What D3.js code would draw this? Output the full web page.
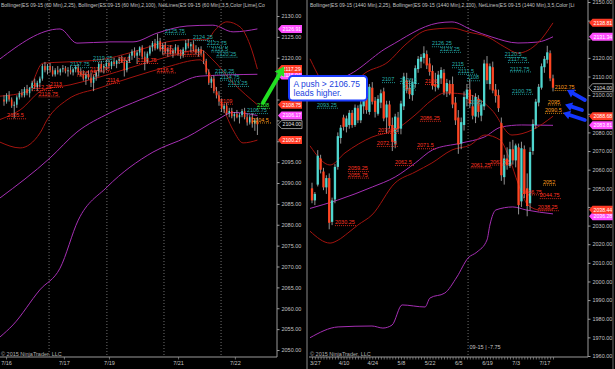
<!DOCTYPE html>
<html>
<head>
<meta charset="utf-8">
<script src="https://cdn.jsdelivr.net/npm/d3@7"></script>
<style>
body { margin: 0; background: #000; }
svg { display: block; font-family: "Liberation Sans", Arial, sans-serif; }
</style>
</head>
<body>
<svg width="615" height="369"></svg>
<script>
// ---- left panel: ES 09-15, 60 min, [open, high, low, close] ----
var leftBars = [
[2110,2111,2108.5,2109.5],[2109.5,2111.5,2109,2111],[2111,2112,2109.5,2110],[2110,2110.5,2108,2108.5],
[2108.5,2109.5,2105.5,2108.75],[2108.75,2111,2108,2110.5],[2110.5,2112,2110,2111.5],[2111.5,2112.5,2110.5,2111],
[2111,2113,2110.5,2112.5],[2112.5,2113.5,2111,2111.5],[2111.5,2113,2110.5,2112.75],[2112.75,2114.5,2112,2114],
[2114,2115,2112.5,2113],[2113,2114.5,2112,2114],[2114,2115.5,2113,2115],[2115,2118.5,2114.5,2118],
[2118,2119,2116.5,2117],[2117,2118.5,2116,2118],[2118,2118.75,2116.5,2117],[2117,2118,2115.5,2116],
[2116,2117.5,2115.5,2117],[2117,2118,2116,2116.5],[2116.5,2117.5,2115.75,2117.25],[2117.25,2118.25,2116.5,2117.5],
[2117.5,2118,2116.25,2116.75],[2116.75,2117.75,2115.5,2117],[2117,2118,2116,2116.5],[2116.5,2117.5,2115.75,2117.25],
[2117.25,2118.25,2116.5,2117.75],[2117.75,2118.5,2116,2116.5],[2116.5,2117.5,2115.5,2116],[2116,2117,2114.5,2115],
[2115,2116.5,2113.5,2116],[2116,2117,2114.75,2115.25],[2115.25,2116.5,2113,2114],[2114,2116,2112,2115.5],
[2115.5,2117,2114.5,2116.5],[2116.5,2119,2115.5,2118.5],[2118.5,2119.25,2116.5,2117.5],[2117.5,2118.5,2116.25,2118],
[2118,2119.5,2117,2118.75],[2118.75,2119.5,2117.5,2118],[2118,2119.25,2117.25,2119],[2119,2120,2118,2118.5],
[2118.5,2119.5,2117.5,2119.25],[2119.25,2120.25,2118.5,2119.75],[2119.75,2120.5,2118.75,2119],[2119,2120,2115.5,2117],
[2117,2119.5,2116.5,2119.25],[2119.25,2121,2118.75,2120.5],[2120.5,2122,2119.5,2121.5],[2121.5,2122.5,2120,2120.5],
[2120.5,2121.75,2118.5,2121.25],[2121.25,2122.75,2120.5,2122.5],[2122.5,2123,2119.75,2120.25],[2120.25,2121.5,2117,2119],
[2119,2121.5,2118.5,2121],[2121,2123,2120.5,2122.5],[2122.5,2124,2121.5,2123.5],[2123.5,2124.5,2121.75,2122.25],
[2122.25,2125.75,2122,2124],[2124,2124.75,2121.5,2122],[2122,2123.5,2120.75,2123],[2123,2123.75,2121,2121.5],
[2121.5,2122.5,2120.25,2122],[2122,2123,2120.75,2121],[2121,2122.25,2120,2121.75],[2121.75,2123.25,2121,2122.5],
[2122.5,2123,2120.5,2121],[2121,2122,2119.75,2120.5],[2120.5,2122.5,2120,2122],[2122,2124.25,2121.5,2123.5],
[2123.5,2124.5,2122.25,2122.75],[2122.75,2123.75,2121.25,2123.25],[2123.25,2124,2121.5,2122],[2122,2123,2120.75,2121.25],
[2121.25,2122.5,2120.25,2122],[2122,2122.75,2120.5,2121],[2121,2121.75,2118.5,2119.25],[2119.25,2119.75,2116,2116.5],
[2116.5,2117.25,2113.5,2114],[2114,2115.5,2112.75,2115],[2115,2115.75,2111.5,2112],[2112,2113,2110.25,2111],
[2111,2112,2108.5,2109.5],[2109.5,2110.25,2107,2107.75],[2107.75,2109,2106.75,2108.5],[2108.5,2109.25,2106.25,2106.75],
[2106.75,2108,2105.75,2107.25],[2107.25,2108,2105.5,2106],[2106,2107,2104.75,2106.5],[2106.5,2107.5,2105.5,2105.75],
[2105.75,2106.75,2104.25,2106.25],[2106.25,2107.75,2105.75,2107.25],[2107.25,2108,2105.25,2105.75],[2105.75,2106.5,2103.75,2104.5],
[2104.5,2106.25,2104,2105.75],[2105.75,2106.75,2103.25,2104.25],[2104.25,2105.5,2102.5,2105],[2105,2105.75,2101.5,2104]
];
var leftPriceTicks = [2130,2125,2120,2115,2110,2105,2100,2095,2090,2085,2080,2075,2070,2065,2060,2055,2050];
var leftDates = ["7/16","7/17","7/19","7/21","7/22"];
var leftDateBars = [0.8,23.4,41,68,90.2];
var leftSessions = [17.6,40.2,62.5,84.8];

// bollinger(25) and bollinger(100), [bar, price]
var leftBB25Upper = [[-1.6,2110.8],[9,2111.9],[15.2,2118.7],[24.6,2119],[37.5,2119.5],[50.4,2121.4],[63.7,2123.8],[71.5,2124.3],[79.3,2124.3],[82.4,2126.6],[87.1,2128.6],[92.2,2127.4],[96.1,2123.1],[99,2117.29]];
var leftBB25Mid = [[-1.6,2105.2],[6.3,2107.5],[15.2,2112.3],[25.8,2113.5],[37.5,2115.4],[50.4,2117.8],[63.7,2120.2],[76.6,2121.9],[81.6,2119.5],[89.5,2114],[99,2108.75]];
var leftBB25Lower = [[-1.6,2099.8],[6.3,2098.4],[14.1,2102],[16.8,2105.1],[24.6,2109.9],[37.5,2112.8],[50.4,2115.4],[63.7,2117.8],[76.6,2119.5],[79.3,2117.5],[84.4,2109.9],[89.5,2102.7],[93.4,2099.6],[99,2100.27]];
var leftBB100Upper = [[-1.6,2119.7],[21.9,2126.9],[28.5,2123.5],[41.4,2123.8],[50.4,2123.8],[59.8,2125.9],[71.5,2127.6],[81.6,2127.8],[89.5,2126.2],[99,2126.91]];
var leftBB100Mid = [[-1.6,2086.4],[18,2096],[28.5,2102.2],[41.4,2106.8],[53.1,2109.9],[64.8,2112.8],[76.6,2115.6],[99,2116.04]];
var leftBB100Lower = [[-1.6,2053.1],[3.5,2056],[14,2064.4],[21.9,2069.6],[29,2081.1],[40.2,2089],[58.2,2097.4],[71.5,2101],[83.2,2105.1],[89.5,2106.9],[99,2106.17]];

// netlines: [bar, price, kind]
var leftNotes = [
[1.2,2105.5,"r"],[11,2112.25,"r"],[13.5,2110.75,"r"],[18,2113,"r"],[25.8,2117.75,"c"],[28.5,2115.75,"r"],
[33.6,2116.75,"r"],[34.8,2119.25,"c"],[40.2,2114,"r"],[44.5,2119,"r"],[52,2118.75,"r"],[59.7,2116.5,"r"],
[61,2122,"r"],[62,2120.75,"r"],[62.9,2125.75,"c"],[70,2120.5,"r"],[73.8,2124.25,"c"],[79.3,2122.75,"c"],
[81,2121.5,"c"],[83,2120.25,"c"],[82.4,2116.25,"c"],[84.4,2114.75,"c"],[87.5,2113.25,"c"],[84.4,2109,"r"],
[94.9,2106.75,"c"],[96.9,2104.5,"o"],[98.8,2108,"g"]
];
// axis flags: [price, kind]
var leftFlags = [[2126.91,"bb100"],[2116.04,"bb100"],[2106.17,"bb100"],[2117.29,"bb25"],[2108.75,"bb25"],[2100.27,"bb25"],[2104.00,"last"]];

// ---- right panel: ES 09-15, 1440 min ----
var rightBars = [
[2050,2053,2042,2043.5],[2043.5,2048,2041,2047],[2052,2070.5,2051,2067.5],[2066,2068,2058,2060],
[2059,2061,2049,2050.5],[2050.5,2057,2047,2055.5],[2055.5,2058,2028,2031.5],[2032,2045,2030.25,2043.5],
[2044,2063,2042,2061.5],[2061.5,2080,2060,2078],[2077,2084,2074,2082.5],[2088,2089.5,2081,2083],
[2083,2089,2080,2087.5],[2084,2092,2082,2090.5],[2090.5,2092,2082.5,2084],[2084,2095,2083,2093.25],
[2093,2094.5,2085,2086.5],[2086.5,2097,2085,2095],[2094,2100,2090,2098.5],[2098.5,2101,2090,2092],
[2091,2106,2089.5,2104.5],[2104,2107,2095,2096.5],[2097,2099,2088,2091],[2090,2100,2089,2098],
[2096,2103,2093,2101],[2102,2104,2086,2087.5],[2088,2097,2079.75,2095],[2095,2097,2082,2083.5],
[2084,2088,2070,2075],[2074,2090,2071.5,2088.5],[2088,2091,2080,2082],[2082,2097,2079,2095.5],
[2094,2112,2092,2110],[2108,2112,2101,2103],[2104,2108,2098,2100.5],[2100,2109,2097,2107],
[2106,2116,2104,2114.5],[2114,2121,2112,2119.5],[2118,2122,2114.5,2120.5],[2120,2126.25,2117,2122.5],
[2122,2124,2114,2116],[2117,2120,2110.5,2112.5],[2113,2116,2103,2105],[2106,2112,2102,2104.5],
[2104,2113,2103,2111],[2109,2115,2106,2113.5],[2112,2114,2100,2101.5],[2102,2108.75,2099,2106.5],
[2106,2108,2100,2101],[2106,2110,2093,2095],[2096,2099,2084,2086.5],[2088,2092,2068.5,2073.5],
[2074,2088,2071,2085.5],[2084,2102,2081,2099],[2098,2106,2094,2103],[2103,2108.75,2093,2095.5],
[2094,2100,2087,2089],[2088.5,2101,2085,2099],[2098,2100,2088,2091],[2089,2097,2086,2095],
[2094,2119,2092,2117],[2117,2121,2106,2108],[2106,2117,2103,2115.5],[2115,2118,2101,2102.5],
[2103,2106,2096,2099.5],[2100,2103,2091,2093],[2085,2088,2054,2057],[2056,2068,2052,2066],
[2066,2072,2060,2062.5],[2062,2075,2061,2071],[2071,2076,2062.75,2065],[2065,2074,2061.25,2073],
[2072,2074,2036,2041],[2043,2075,2040,2071.5],[2071,2073,2044.75,2047],[2050,2058,2035,2040.5],
[2042,2072,2038.25,2069.5],[2070,2087,2068,2084.5],[2084,2098,2082,2096.5],[2096,2106,2094,2104.5],
[2104,2117,2103,2115.5],[2115,2121,2112,2119.5],[2119,2126.5,2117,2123],[2122.5,2124,2107.5,2109],
[2109,2111,2102,2104]
];
var rightPriceTicks = [2150,2140,2130,2120,2110,2100,2090,2080,2070,2060,2050,2040,2030,2020,2010,2000,1990,1980,1970,1960];
var rightDates = ["3/27","4/10","4/24","5/8","5/22","6/5","6/19","7/3","7/17"];
var rightDateBars = [1,11,21,31,41,51,61,71,81];
var rightRollBar = 54.4, rightRollText = "09-15 | -7.75";

var rightBB25Upper = [[-0.7,2119.5],[7,2101.2],[10,2100.1],[18.5,2111.9],[26.5,2117.8],[32.4,2126.9],[40.4,2135],[48.8,2136],[54.4,2133.9],[61.3,2131.2],[67.2,2125.8],[71.8,2122.6],[78.7,2128],[84,2138.81]];
var rightBB25Mid = [[-0.7,2072.8],[6.3,2062.5],[11.5,2069],[20.9,2077.5],[28.9,2081.3],[35.9,2089.3],[41.8,2097.4],[46.3,2101.2],[55.1,2100.1],[62.7,2092],[69.7,2078.6],[76.7,2081.3],[84,2088.68]];
var rightBB25Lower = [[-0.7,2027],[6.3,2020.6],[9.1,2022.2],[12.5,2026],[16,2030.3],[20.9,2035.7],[28.9,2052.8],[35.9,2058.7],[41.8,2063.6],[48.8,2070.6],[55.1,2073.2],[60.3,2078.6],[65.5,2076],[69,2065.2],[71.8,2052.8],[75.3,2041],[79.4,2038.4],[84,2038.44]];
var rightBB100Upper = [[-0.7,2108.6],[9.1,2109.2],[26.5,2125.8],[43.9,2138.7],[48.8,2139.3],[55.7,2135],[62.7,2131.2],[71.8,2128],[78.7,2128.5],[84,2131.34]];
var rightBB100Mid = [[-0.7,2039.2],[9,2043.7],[21,2050.7],[29,2056.1],[36,2063.6],[42,2070.6],[52,2074.3],[60,2077.5],[66,2082.9],[73,2084],[84,2083.81]];
var rightBB100Lower = [[-0.7,1969.8],[9.1,1975.6],[20.9,1976.1],[24.7,1975],[27.9,1976.6],[31.4,1987.4],[39.4,1986.3],[41.1,1991.1],[46.3,1993.8],[50.5,2002.4],[54.4,2012.6],[57.5,2015.8],[61,2022.3],[62,2030.3],[64.1,2038.4],[70,2040],[74.6,2038.4],[84,2036.28]];

var rightNotes = [
[1.7,2093.25,"c"],[8,2030.25,"r"],[12.5,2059.25,"r"],[12.5,2055.75,"r"],[22.6,2072.75,"r"],[23,2079.75,"r"],
[24.4,2107,"c"],[28.9,2062.5,"r"],[30.7,2106.5,"c"],[31.7,2103,"c"],[36.6,2071.5,"r"],[37.6,2086.25,"r"],
[39.4,2106,"r"],[41.8,2126.25,"c"],[44.6,2123.25,"c"],[48.8,2115,"c"],[50.9,2111.5,"c"],[54,2108,"c"],
[55,2095,"c"],[55.3,2061.25,"r"],[62,2062.75,"r"],[67.2,2120.5,"c"],[68.3,2117.75,"c"],[69,2112.75,"c"],
[69.7,2100.75,"c"],[73.2,2046.75,"r"],[78.7,2038.25,"r"],[79.4,2044.75,"r"],[80.5,2052,"o"],
[81.2,2090.5,"o"],[82.2,2095,"o"],[84.6,2102.75,"o"]
];
var rightFlags = [[2131.34,"bb100"],[2083.81,"bb100"],[2036.28,"bb100"],[2138.81,"bb25"],[2088.68,"bb25"],[2038.44,"bb25"],[2104.00,"last"]];

var leftTitle = "Bollinger(ES 09-15 (60 Min),2,25), Bollinger(ES 09-15 (60 Min),2,100), NetLines(ES 09-15 (60 Min),3,5,Color [Lime],Co";
var rightTitle = "Bollinger(ES 09-15 (1440 Min),2,25), Bollinger(ES 09-15 (1440 Min),2,100), NetLines(ES 09-15 (1440 Min),3,5,Color [Li";
var copyright = "\u00a9 2015 NinjaTrader, LLC";
var calloutLines = ["A push > 2106.75", "leads higher."];

// ---- styles ----
var upColor = "#4fd6cf", downColor = "#ff4522",
    bb25Color = "#a3140f", bb100Color = "#a62fb4",
    noteColor = {r: "#ff3322", c: "#27b0ad", o: "#ff9f1c", g: "#3dff3d"},
    flagFill = {bb25: "#ff3b26", bb100: "#ff4dff", last: "#000"},
    axisColor = "#9a9a9a", textColor = "#c4c4c4", fs = "5.5px";

var svg = d3.select("svg"),
    bottomY = 357;

var leftX = d3.scaleLinear().domain([0, 99]).range([4, 257.4]),
    leftY = d3.scaleLinear().domain([2050, 2130]).range([350, 16]),
    rightX = d3.scaleLinear().domain([0, 84]).range([312, 553]),
    rightY = d3.scaleLinear().domain([1960, 2150]).range([356, 2]);

var defs = svg.append("defs");
defs.append("clipPath").attr("id", "clipL").append("rect").attr("x", 0).attr("y", 0).attr("width", 277).attr("height", bottomY);
defs.append("clipPath").attr("id", "clipR").append("rect").attr("x", 309).attr("y", 0).attr("width", 279).attr("height", bottomY);

svg.append("rect").attr("width", 615).attr("height", 369).attr("fill", "#000");

drawPanel({
  x: leftX, y: leftY, clip: "clipL", x0: 0, axisX: 277, bars: leftBars, bodyW: 1.5,
  breaks: leftSessions, bands: [leftBB100Upper, leftBB100Mid, leftBB100Lower, leftBB25Upper, leftBB25Mid, leftBB25Lower],
  notes: leftNotes, flags: leftFlags, ticks: leftPriceTicks, dates: leftDates, dateBars: leftDateBars,
  allTicks: leftDateBars, title: leftTitle
});
drawPanel({
  x: rightX, y: rightY, clip: "clipR", x0: 309, axisX: 588, bars: rightBars, bodyW: 2.3,
  breaks: [rightRollBar], bands: [rightBB100Upper, rightBB100Mid, rightBB100Lower, rightBB25Upper, rightBB25Mid, rightBB25Lower],
  notes: rightNotes, flags: rightFlags, ticks: rightPriceTicks, dates: rightDates, dateBars: rightDateBars,
  allTicks: d3.range(0, 85), title: rightTitle
});

// rollover marker text
svg.append("text").attr("x", rightX(rightRollBar) + 1.5).attr("y", 349)
  .attr("fill", textColor).attr("font-size", fs).text(rightRollText);

// panel borders
svg.append("line").attr("x1", 307).attr("x2", 307).attr("y1", 0).attr("y2", 369).attr("stroke", "#8a8a8a");
svg.append("line").attr("x1", 613).attr("x2", 613).attr("y1", 0).attr("y2", 369).attr("stroke", "#6a6a6a");

function drawPanel(p) {
  var g = svg.append("g");
  var plot = g.append("g").attr("clip-path", "url(#" + p.clip + ")");

  // session / rollover separators
  plot.selectAll(".sep").data(p.breaks).enter().append("line")
    .attr("x1", function(d) { return p.x(d); }).attr("x2", function(d) { return p.x(d); })
    .attr("y1", 0).attr("y2", bottomY)
    .attr("stroke", "#8c8c8c").attr("stroke-width", 0.8).attr("stroke-dasharray", "1,2");

  // bands
  var line = d3.line().x(function(d) { return p.x(d[0]); }).y(function(d) { return p.y(d[1]); }).curve(d3.curveMonotoneX);
  plot.selectAll(".band").data(p.bands).enter().append("path")
    .attr("d", line).attr("fill", "none").attr("stroke-width", 1)
    .attr("stroke", function(d, i) { return i < 3 ? bb100Color : bb25Color; });

  // candles
  plot.selectAll(".wick").data(p.bars).enter().append("line")
    .attr("x1", function(d, i) { return p.x(i); }).attr("x2", function(d, i) { return p.x(i); })
    .attr("y1", function(d) { return p.y(d[1]); }).attr("y2", function(d) { return p.y(d[2]); })
    .attr("stroke", "#b8b8b8").attr("stroke-width", 0.8);
  plot.selectAll(".body").data(p.bars).enter().append("rect")
    .attr("x", function(d, i) { return p.x(i) - p.bodyW / 2; })
    .attr("width", p.bodyW)
    .attr("y", function(d) { return p.y(Math.max(d[0], d[3])); })
    .attr("height", function(d) { return Math.max(0.8, Math.abs(p.y(d[0]) - p.y(d[3]))); })
    .attr("fill", function(d) { return d[3] >= d[0] ? upColor : downColor; });

  // netline labels
  var note = plot.selectAll(".note").data(p.notes).enter().append("g")
    .attr("transform", function(d) { return "translate(" + p.x(d[0]) + "," + p.y(d[1]) + ")"; });
  note.append("line").attr("x1", 0).attr("y1", 0.5).attr("y2", 0.5)
    .attr("x2", function(d) { return String(d[1]).length * 3 + 1; })
    .attr("stroke", function(d) { return noteColor[d[2]]; })
    .attr("stroke-width", 0.8).attr("stroke-dasharray", "1,1");
  note.append("text").attr("y", -0.8).attr("font-size", fs)
    .attr("fill", function(d) { return noteColor[d[2]]; })
    .text(function(d) { return String(d[1]); });

  // title
  g.append("text").attr("x", p.x0 + 1).attr("y", 6.5).attr("font-size", "5px").attr("fill", textColor).text(p.title);
  g.append("text").attr("x", p.x0 + 1).attr("y", 355.5).attr("font-size", fs).attr("fill", "#b0b0b0").text(copyright);

  // flag positions: nudge apart so their numbers stay readable
  var fy = p.flags.map(function(f) { return p.y(f[0]); });
  var order = d3.range(fy.length).sort(function(a, b) { return fy[a] - fy[b]; });
  for (var k = 1; k < order.length; k++) {
    if (fy[order[k]] - fy[order[k - 1]] < 6.5) fy[order[k]] = fy[order[k - 1]] + 6.5;
  }

  // price axis; tick labels sitting under a value flag are hidden there, so leave them out
  var shown = p.ticks.filter(function(t) {
    return !fy.some(function(y) { return Math.abs(p.y(t) - y) < 7; });
  });
  var ay = g.append("g").attr("transform", "translate(" + p.axisX + ",0)")
    .call(d3.axisRight(p.y).tickValues(p.ticks).tickSize(2.5).tickPadding(2)
      .tickFormat(function(t) { return shown.indexOf(t) < 0 ? "" : d3.format(".2f")(t); }));
  ay.select(".domain").remove();
  ay.selectAll("line").attr("stroke", axisColor);
  ay.selectAll("text").attr("fill", textColor).attr("font-size", fs).attr("font-family", null);
  g.append("line").attr("x1", p.axisX).attr("x2", p.axisX).attr("y1", 0).attr("y2", bottomY).attr("stroke", axisColor);

  // time axis
  var ax = g.append("g").attr("transform", "translate(0," + bottomY + ")")
    .call(d3.axisBottom(p.x).tickValues(p.allTicks).tickSize(2.5).tickPadding(1.5)
      .tickFormat(function(d) { var k = p.dateBars.indexOf(d); return k < 0 ? "" : p.dates[k]; }));
  ax.select(".domain").remove();
  ax.selectAll("line").attr("stroke", axisColor).attr("stroke-width", 0.7);
  ax.selectAll("text").attr("fill", textColor).attr("font-size", fs).attr("font-family", null);
  g.append("line").attr("x1", p.x0).attr("x2", p.axisX).attr("y1", bottomY).attr("y2", bottomY).attr("stroke", axisColor);

  // value flags on the price axis
  var flag = g.selectAll(".flag").data(p.flags).enter().append("g")
    .attr("transform", function(d, i) { return "translate(" + (p.axisX + 1) + "," + fy[i] + ")"; });
  flag.append("path").attr("d", "M0,0L3.5,-4L24,-4L24,4L3.5,4Z")
    .attr("fill", function(d) { return flagFill[d[1]]; })
    .attr("stroke", function(d) { return d[1] == "last" ? "#c8c8c8" : "none"; })
    .attr("stroke-width", 0.7);
  flag.append("text").attr("x", 4.5).attr("dy", "0.35em").attr("font-size", "5.2px")
    .attr("fill", function(d) { return d[1] == "last" ? "#e0e0e0" : "#fff"; })
    .text(function(d) { return d[0].toFixed(2); });
}

// ---- annotations ----
function drawArrow(g, x1, y1, x2, y2, color, w, hl, hw) {
  var dx = x2 - x1, dy = y2 - y1, len = Math.sqrt(dx * dx + dy * dy),
      ux = dx / len, uy = dy / len, px = -uy, py = ux,
      bx = x2 - ux * hl, by = y2 - uy * hl;
  g.append("line").attr("x1", x1).attr("y1", y1).attr("x2", bx + ux).attr("y2", by + uy)
    .attr("stroke", color).attr("stroke-width", w).attr("stroke-linecap", "round");
  g.append("path").attr("d", "M" + x2 + "," + y2 + "L" + (bx + px * hw) + "," + (by + py * hw) + "L" + (bx - px * hw) + "," + (by - py * hw) + "Z")
    .attr("fill", color);
}

var ann = svg.append("g");
// green arrow from the 2108 net line up to the 2117.29 band flag
drawArrow(ann, leftX(101.2), leftY(2109.2), leftX(109.4), leftY(2117.9), "#22e022", 4, 9, 5.5);
// blue arrows at the orange targets
var blueArrows = [[95.1, 2097.4, 88.9, 2102.75], [94.1, 2092, 88.2, 2095], [95.1, 2086.7, 87.5, 2090.5]];
blueArrows.forEach(function(a) {
  drawArrow(ann, rightX(a[0]), rightY(a[1]), rightX(a[2]), rightY(a[3]), "#1437ff", 3.8, 7, 4.5);
});

var box = ann.append("g").attr("transform", "translate(289,76)");
box.append("rect").attr("width", 78).attr("height", 24.5).attr("rx", 3.5)
  .attr("fill", "#fff").attr("stroke", "#1b3cff").attr("stroke-width", 2);
box.selectAll("text").data(calloutLines).enter().append("text")
  .attr("x", 4.5).attr("y", function(d, i) { return 10.5 + i * 9.5; })
  .attr("font-size", "8.5px").attr("fill", "#2244e0")
  .text(function(d) { return d; });
</script>
</body>
</html>
